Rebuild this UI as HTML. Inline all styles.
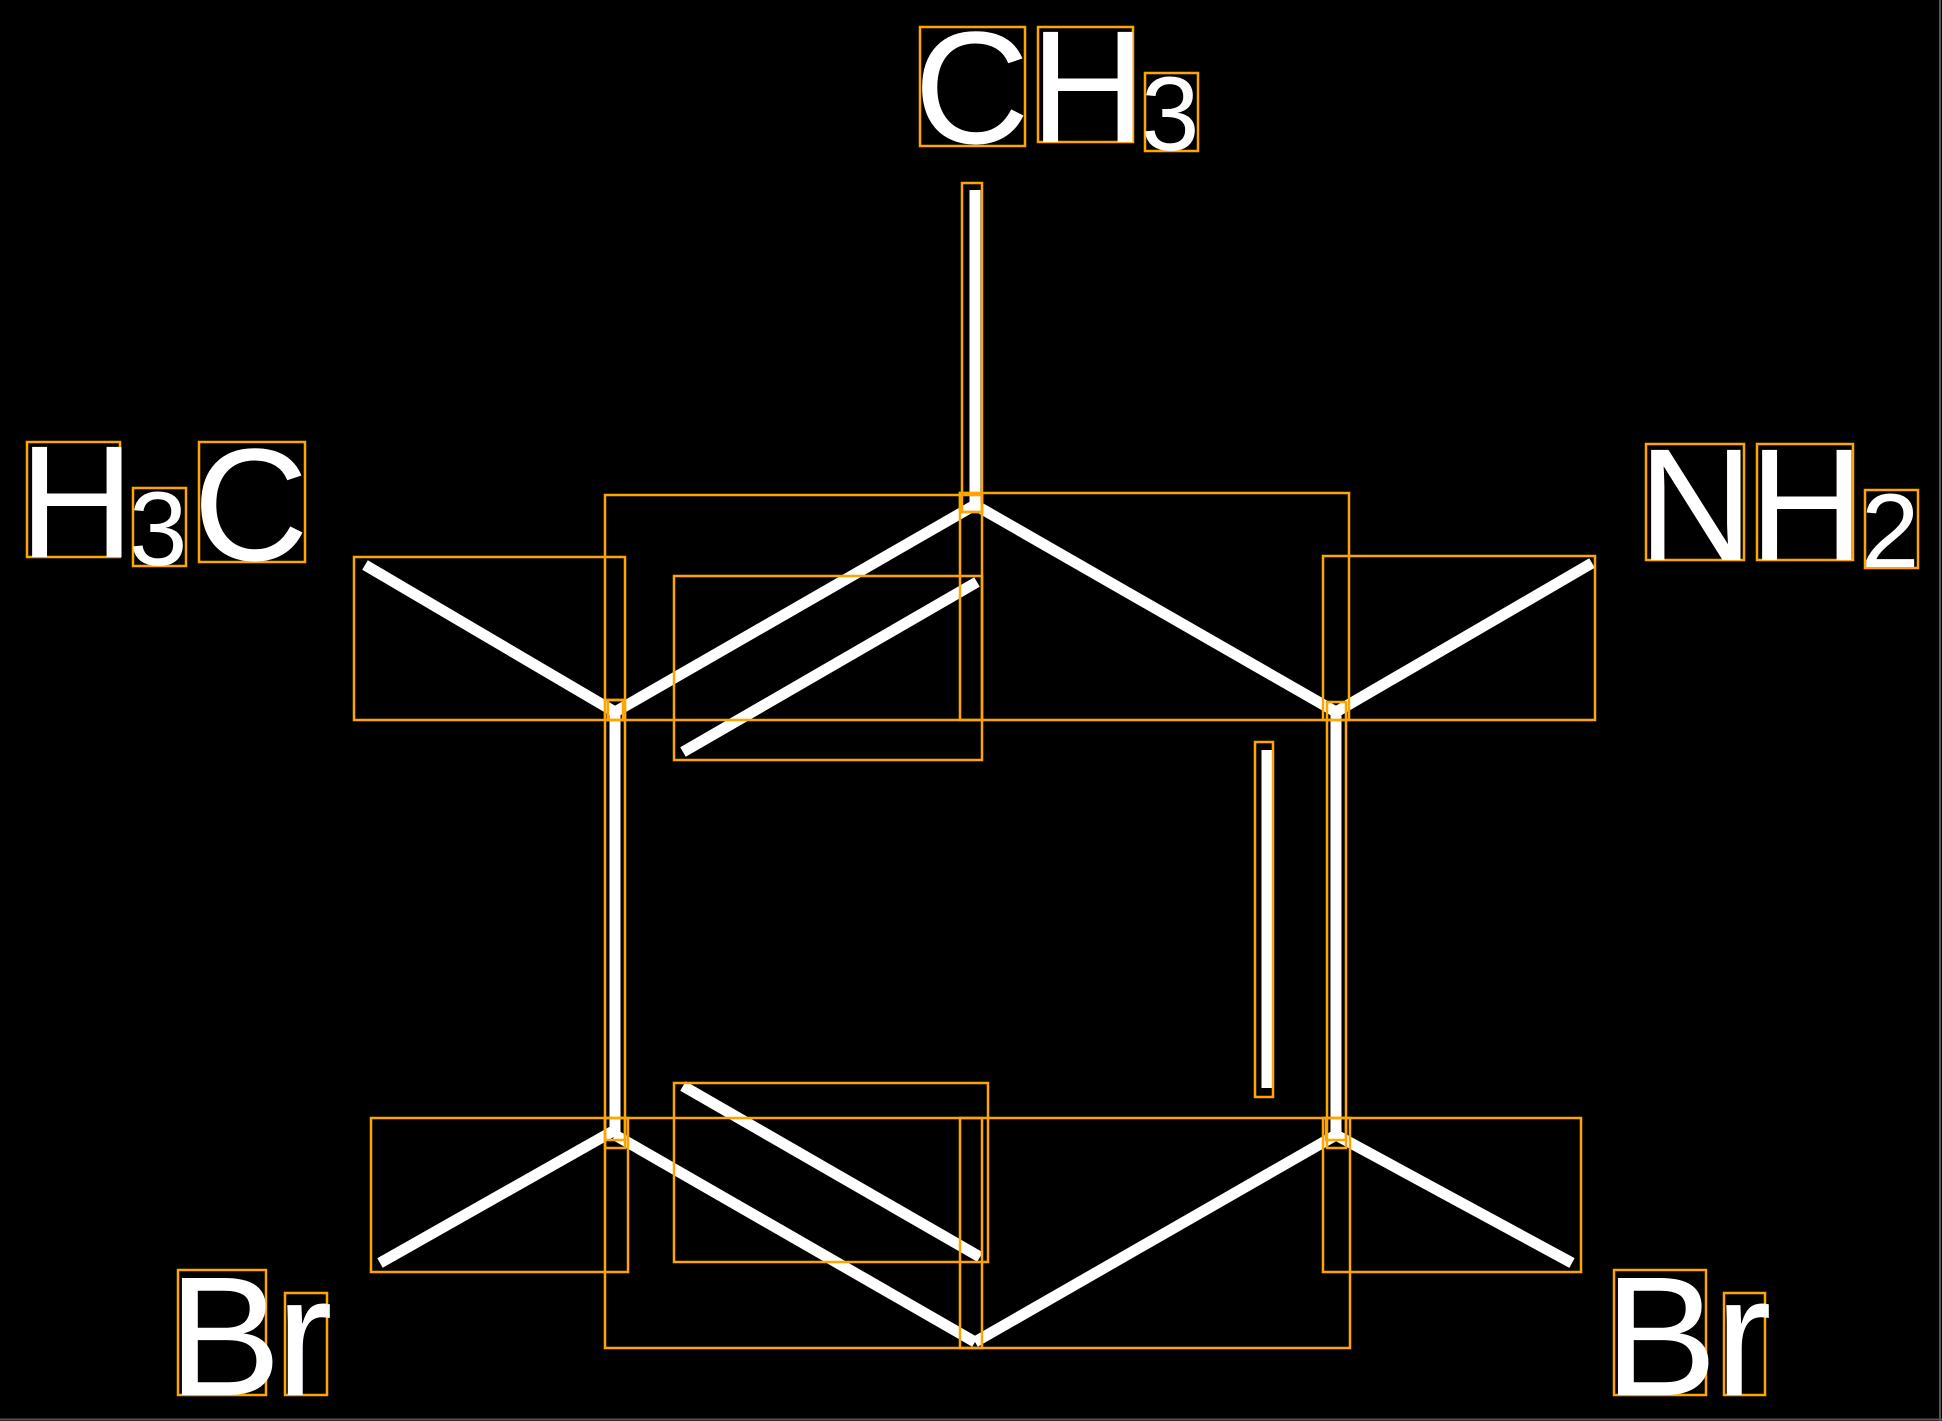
<!DOCTYPE html>
<html><head><meta charset="utf-8"><style>
html,body{margin:0;padding:0;background:#000;}
svg{display:block}
text{font-family:"Liberation Sans",sans-serif;fill:#fff}
</style></head><body>
<svg width="1942" height="1421" viewBox="0 0 1942 1421" xmlns="http://www.w3.org/2000/svg">
<rect x="0" y="0" width="1942" height="1421" fill="#000"/>
<line x1="1940" y1="0" x2="1940" y2="1421" stroke="#555" stroke-width="2"/>
<line x1="0" y1="1419.5" x2="1942" y2="1419.5" stroke="#555" stroke-width="2"/>
<g stroke="#fff" stroke-width="11" fill="none" stroke-linecap="butt">
<line x1="975" y1="190" x2="975" y2="505"/>
<line x1="975" y1="505" x2="615" y2="712"/>
<line x1="975" y1="505" x2="1336" y2="712"/>
<line x1="615" y1="712" x2="615" y2="1135"/>
<line x1="1336" y1="712" x2="1336" y2="1135"/>
<line x1="615" y1="1135" x2="975" y2="1342"/>
<line x1="1336" y1="1135" x2="975" y2="1342"/>
<line x1="683" y1="752" x2="977" y2="582"/>
<line x1="683" y1="1086" x2="980" y2="1257"/>
<line x1="1267" y1="750" x2="1267" y2="1088"/>
<line x1="365" y1="565" x2="615" y2="712"/>
<line x1="1336" y1="712" x2="1592" y2="563"/>
<line x1="380" y1="1263" x2="615" y2="1130"/>
<line x1="1336" y1="1135" x2="1572" y2="1263"/>
</g>
<g stroke="#ffa500" stroke-width="2.5" fill="none">
<rect x="920" y="27" width="105" height="119"/>
<rect x="1038" y="27" width="95" height="115"/>
<rect x="1145" y="73" width="53" height="78"/>
<rect x="962" y="183" width="20" height="329"/>
<rect x="960" y="493" width="22" height="19"/>
<rect x="27" y="442" width="93" height="115"/>
<rect x="133" y="488" width="53" height="78"/>
<rect x="199" y="442" width="106" height="120"/>
<rect x="1646" y="444" width="98" height="116"/>
<rect x="1757" y="444" width="96" height="116"/>
<rect x="1865" y="490" width="53" height="78"/>
<rect x="178" y="1270" width="88" height="125"/>
<rect x="285" y="1293" width="42" height="102"/>
<rect x="1614" y="1270" width="92" height="125"/>
<rect x="1724" y="1293" width="41" height="102"/>
<rect x="605" y="495" width="377" height="225"/>
<rect x="960" y="493" width="389" height="227"/>
<rect x="354" y="557" width="271" height="163"/>
<rect x="1323" y="556" width="272" height="164"/>
<rect x="674" y="576" width="308" height="184"/>
<rect x="605" y="700" width="20" height="448"/>
<rect x="608" y="700" width="15" height="20"/>
<rect x="1327" y="702" width="19" height="446"/>
<rect x="1255" y="742" width="18" height="355"/>
<rect x="371" y="1118" width="257" height="154"/>
<rect x="605" y="1118" width="377" height="230"/>
<rect x="674" y="1083" width="314" height="179"/>
<rect x="960" y="1118" width="390" height="230"/>
<rect x="1323" y="1118" width="258" height="154"/>
<rect x="605" y="1118" width="20" height="22"/>
<rect x="1326" y="1118" width="20" height="22"/>
</g>
<text x="914" y="143" font-size="160">C</text>
<text x="1030" y="142" font-size="160">H</text>
<text x="1141" y="150" font-size="105">3</text>
<text x="19" y="557" font-size="160">H</text>
<text x="129" y="565" font-size="105">3</text>
<text x="193" y="560" font-size="160">C</text>
<text x="1638" y="560" font-size="160">N</text>
<text x="1749" y="560" font-size="160">H</text>
<text x="1861" y="567" font-size="105">2</text>
<text x="168" y="1395" font-size="170">B</text>
<text x="276" y="1395" font-size="170">r</text>
<text x="1604" y="1395" font-size="170">B</text>
<text x="1715" y="1395" font-size="170">r</text>
</svg>
</body></html>
